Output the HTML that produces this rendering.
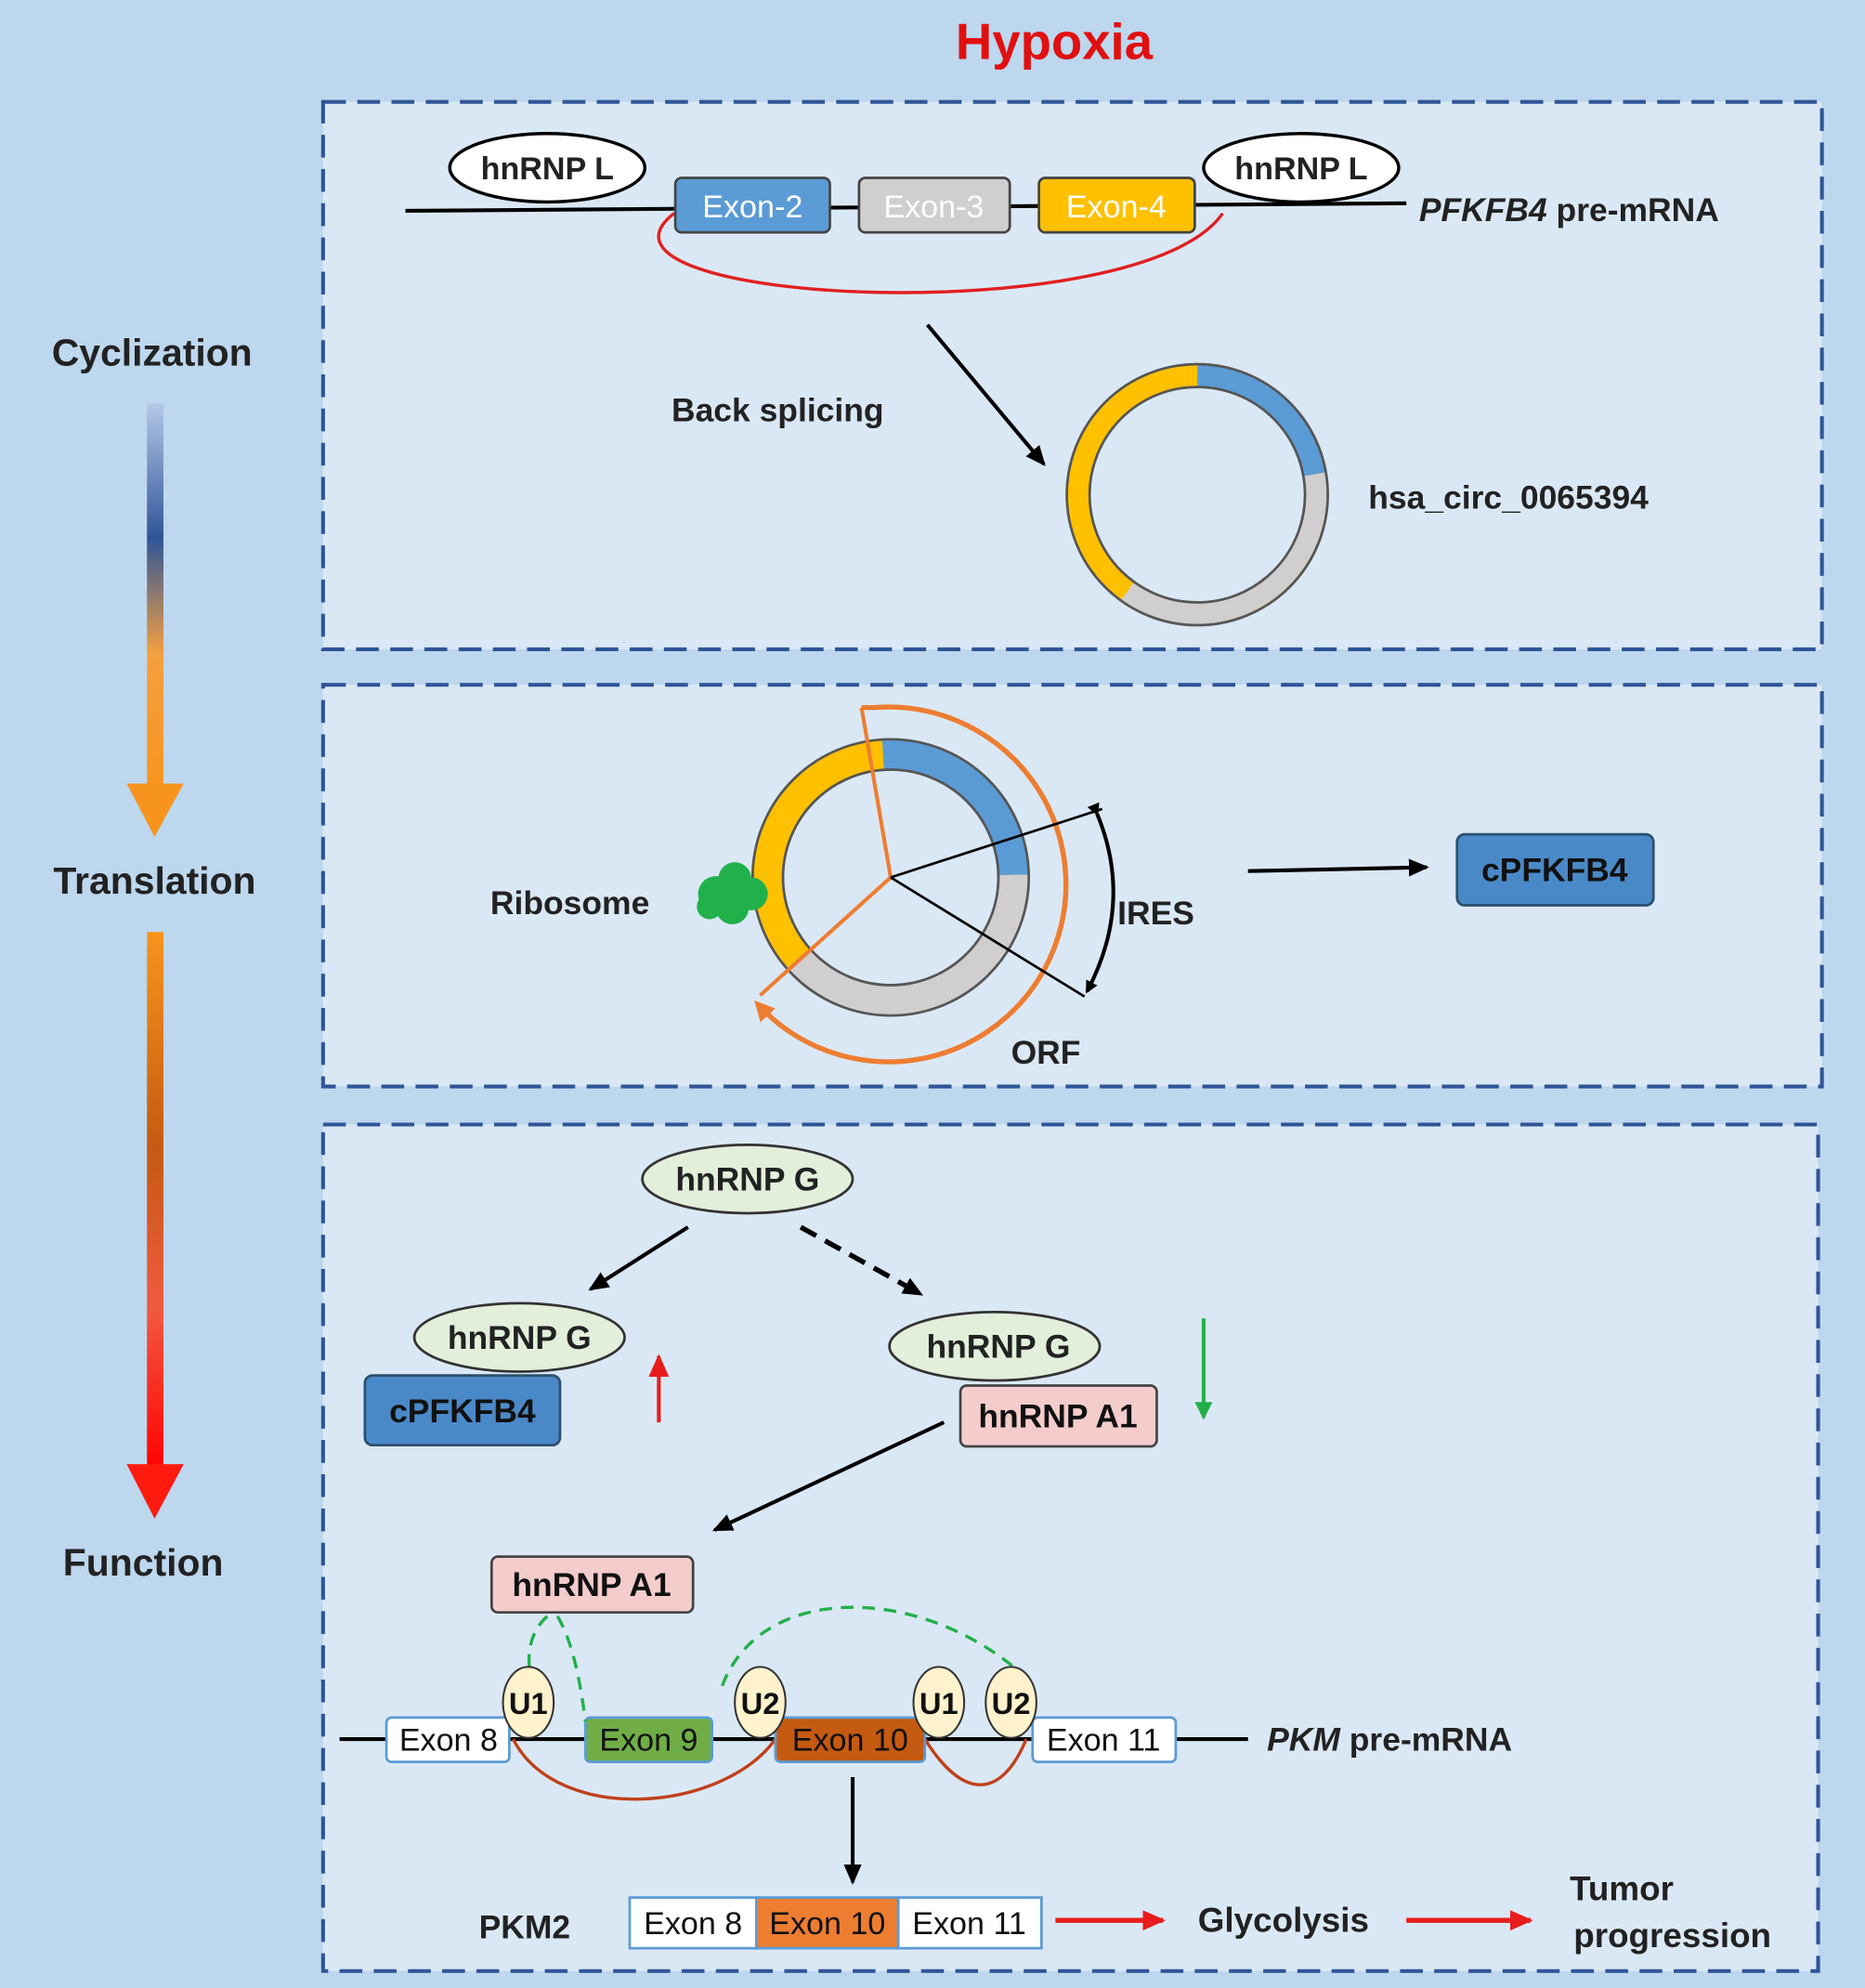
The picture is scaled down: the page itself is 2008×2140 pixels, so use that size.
<!DOCTYPE html>
<html><head><meta charset="utf-8"><style>
html,body{margin:0;padding:0;background:#bdd7ee;}
svg{display:block;}
text{font-family:"Liberation Sans",Arial,sans-serif;}
</style></head><body>
<svg width="2008" height="2140" viewBox="0 0 1472 1568" xmlns="http://www.w3.org/2000/svg">
<defs>
<linearGradient id="g1" x1="0" y1="0" x2="0" y2="1">
<stop offset="0" stop-color="#b4c7e7"/><stop offset="0.35" stop-color="#2f5597"/><stop offset="0.65" stop-color="#f4a040"/><stop offset="1" stop-color="#f7941d"/></linearGradient>
<linearGradient id="g2" x1="0" y1="0" x2="0" y2="1">
<stop offset="0" stop-color="#f7941d"/><stop offset="0.4" stop-color="#c55a11"/><stop offset="0.7" stop-color="#f05a40"/><stop offset="1" stop-color="#ff0000"/></linearGradient>
<marker id="ab" markerWidth="10" markerHeight="10" refX="8" refY="5" orient="auto" markerUnits="userSpaceOnUse"><path d="M0,0 L10,5 L0,10 z" fill="#000"/></marker>
<marker id="abig" markerWidth="16" markerHeight="14" refX="14" refY="7" orient="auto" markerUnits="userSpaceOnUse"><path d="M0,0 L16,7 L0,14 z" fill="#000"/></marker>
<marker id="ar" markerWidth="18" markerHeight="16" refX="16" refY="8" orient="auto" markerUnits="userSpaceOnUse"><path d="M0,0 L18,8 L0,16 z" fill="#e81c1c"/></marker>
<marker id="ag" markerWidth="14" markerHeight="14" refX="12" refY="7" orient="auto" markerUnits="userSpaceOnUse"><path d="M0,0 L14,7 L0,14 z" fill="#22b04b"/></marker>
<marker id="ao" markerWidth="16" markerHeight="16" refX="12" refY="8" orient="auto" markerUnits="userSpaceOnUse"><path d="M0,0 L16,8 L0,16 z" fill="#ed7d31"/></marker>
</defs>
<rect width="1472" height="1568" fill="#bdd7ee"/>
<text x="832" y="46" font-size="40" font-weight="bold" fill="#e01010" text-anchor="middle">Hypoxia</text>

<!-- panels -->
<g fill="#dae8f5" stroke="#2f5597" stroke-width="3" stroke-dasharray="18,9">
<rect x="255" y="80" width="1183" height="432"/>
<rect x="255" y="540" width="1183" height="317"/>
<rect x="255" y="887" width="1180" height="668"/>
</g>

<!-- left -->
<g font-size="30" font-weight="bold" fill="#222" text-anchor="middle">
<text x="120" y="288">Cyclization</text>
<text x="122" y="705">Translation</text>
<text x="113" y="1243">Function</text>
</g>
<rect x="116" y="318" width="13" height="305" fill="url(#g1)"/>
<path d="M100,618 L145,618 L122,660 z" fill="#f7941d"/>
<rect x="116" y="735" width="13" height="425" fill="url(#g2)"/>
<path d="M100,1155 L145,1155 L122,1198 z" fill="#ff1a10"/>

<!-- panel 1 -->
<line x1="320" y1="166" x2="1110" y2="160" stroke="#000" stroke-width="3"/>
<path d="M532,168 C440,240 900,262 965,168" fill="none" stroke="#e02020" stroke-width="2.5"/>
<g stroke="#444" stroke-width="2">
<rect x="533" y="140" width="122" height="43" rx="5" fill="#5b9bd5"/>
<rect x="678" y="140" width="119" height="43" rx="5" fill="#d0cece"/>
<rect x="820" y="140" width="123" height="43" rx="5" fill="#ffc000"/>
</g>
<g font-size="25" fill="#fff" text-anchor="middle">
<text x="594" y="171">Exon-2</text><text x="737" y="171">Exon-3</text><text x="881" y="171">Exon-4</text>
</g>
<ellipse cx="432" cy="132" rx="77" ry="27" fill="#fff" stroke="#000" stroke-width="2.5"/>
<ellipse cx="1027" cy="132" rx="77" ry="27" fill="#fff" stroke="#000" stroke-width="2.5"/>
<g font-size="25" font-weight="bold" fill="#222" text-anchor="middle">
<text x="432" y="141">hnRNP L</text><text x="1027" y="141">hnRNP L</text>
</g>
<text x="1120" y="174" font-size="26" font-weight="bold" fill="#222"><tspan font-style="italic">PFKFB4</tspan> pre-mRNA</text>
<line x1="732" y1="256" x2="824" y2="366" stroke="#000" stroke-width="3" marker-end="url(#abig)"/>
<text x="530" y="332" font-size="26" font-weight="bold" fill="#222">Back splicing</text>
<g fill="none" stroke-width="18">
<circle cx="945" cy="390" r="94" stroke="#ffc000"/>
<path d="M945,296 A94,94 0 0 1 1037,374" stroke="#5b9bd5"/>
<path d="M1037,374 A94,94 0 0 1 890,466" stroke="#d0cece"/>
</g>
<circle cx="945" cy="390" r="103" fill="none" stroke="#555" stroke-width="2"/>
<circle cx="945" cy="390" r="85" fill="none" stroke="#555" stroke-width="2"/>
<text x="1080" y="401" font-size="26" font-weight="bold" fill="#222">hsa_circ_0065394</text>

<!-- panel 2 -->
<g fill="none" stroke-width="24">
<circle cx="703" cy="692" r="97" stroke="#ffc000"/>
<path d="M697,595 A97,97 0 0 1 800,690" stroke="#5b9bd5"/>
<path d="M800,690 A97,97 0 0 1 630,756" stroke="#d0cece"/>
</g>
<circle cx="703" cy="692" r="109" fill="none" stroke="#555" stroke-width="2"/>
<circle cx="703" cy="692" r="85" fill="none" stroke="#555" stroke-width="2"/>
<g stroke="#ed7d31" stroke-width="3" fill="none">
<line x1="703" y1="692" x2="680" y2="558"/>
<line x1="703" y1="692" x2="600" y2="785"/>
<path d="M680,558 L690,558 A140,140 0 1 1 598,792" stroke-width="4" marker-end="url(#ao)"/>
</g>
<g stroke="#000" stroke-width="2" fill="none">
<line x1="703" y1="692" x2="870" y2="638"/>
<line x1="703" y1="692" x2="856" y2="786"/>
<path d="M866,642 Q895,712 858,782" stroke-width="3" marker-start="url(#ab)" marker-end="url(#ab)"/>
</g>
<g fill="#22b04b"><circle cx="565" cy="705" r="14"/><circle cx="580" cy="693" r="13"/><circle cx="593" cy="705" r="13"/><circle cx="578" cy="716" r="13"/><circle cx="560" cy="715" r="10"/></g>
<g font-size="26" font-weight="bold" fill="#222">
<text x="387" y="721">Ribosome</text><text x="882" y="729">IRES</text><text x="798" y="839">ORF</text>
</g>
<line x1="985" y1="687" x2="1126" y2="684" stroke="#000" stroke-width="3" marker-end="url(#abig)"/>
<rect x="1150" y="658" width="155" height="56" rx="6" fill="#4a89c8" stroke="#2d4f6e" stroke-width="2"/>
<text x="1227" y="695" font-size="26" font-weight="bold" fill="#111" text-anchor="middle">cPFKFB4</text>

<!-- panel 3 -->
<g stroke="#333" stroke-width="2" fill="#e2efda">
<ellipse cx="590" cy="930" rx="83" ry="27"/>
<ellipse cx="410" cy="1055" rx="83" ry="27"/>
<ellipse cx="785" cy="1062" rx="83" ry="27"/>
</g>
<g font-size="26" font-weight="bold" fill="#222" text-anchor="middle">
<text x="590" y="939">hnRNP G</text><text x="410" y="1064">hnRNP G</text><text x="788" y="1071">hnRNP G</text>
</g>
<line x1="543" y1="968" x2="466" y2="1017" stroke="#000" stroke-width="3" marker-end="url(#abig)"/>
<line x1="632" y1="968" x2="727" y2="1021" stroke="#000" stroke-width="4" stroke-dasharray="14,8" marker-end="url(#abig)"/>
<rect x="288" y="1085" width="154" height="55" rx="6" fill="#4a89c8" stroke="#2d4f6e" stroke-width="2"/>
<text x="365" y="1122" font-size="26" font-weight="bold" fill="#111" text-anchor="middle">cPFKFB4</text>
<line x1="520" y1="1122" x2="520" y2="1070" stroke="#e81c1c" stroke-width="3" marker-end="url(#ar)"/>
<rect x="758" y="1093" width="155" height="48" rx="5" fill="#f4cccc" stroke="#444" stroke-width="2"/>
<text x="835" y="1126" font-size="26" font-weight="bold" fill="#111" text-anchor="middle">hnRNP A1</text>
<line x1="950" y1="1040" x2="950" y2="1118" stroke="#22b04b" stroke-width="3" marker-end="url(#ag)"/>
<line x1="745" y1="1122" x2="564" y2="1207" stroke="#000" stroke-width="3" marker-end="url(#abig)"/>
<rect x="388" y="1228" width="159" height="44" rx="5" fill="#f4cccc" stroke="#444" stroke-width="2"/>
<text x="467" y="1259" font-size="26" font-weight="bold" fill="#111" text-anchor="middle">hnRNP A1</text>

<line x1="268" y1="1372" x2="985" y2="1372" stroke="#000" stroke-width="3"/>
<g fill="none" stroke="#c0401a" stroke-width="2.5">
<path d="M405,1372 C440,1440 570,1430 612,1372"/>
<path d="M730,1372 C760,1420 790,1420 810,1372"/>
</g>
<g stroke="#5b9bd5" stroke-width="2">
<rect x="305" y="1355" width="97" height="35" rx="4" fill="#fff"/>
<rect x="462" y="1355" width="100" height="35" rx="4" fill="#70ad47"/>
<rect x="612" y="1355" width="118" height="35" rx="4" fill="#c55a11"/>
<rect x="815" y="1355" width="113" height="35" rx="4" fill="#fff"/>
</g>
<g font-size="25" fill="#111" text-anchor="middle">
<text x="354" y="1381">Exon 8</text><text x="512" y="1381">Exon 9</text><text x="671" y="1381">Exon 10</text><text x="871" y="1381">Exon 11</text>
</g>
<g fill="none" stroke="#22b04b" stroke-width="2.5" stroke-dasharray="10,7">
<path d="M432,1275 Q415,1290 418,1318"/>
<path d="M440,1275 Q455,1300 462,1358"/>
<path d="M570,1330 C600,1250 720,1250 800,1315"/>
</g>
<g stroke="#333" stroke-width="1.5" fill="#fff2cc">
<ellipse cx="417" cy="1343" rx="20" ry="28"/><ellipse cx="600" cy="1343" rx="20" ry="28"/>
<ellipse cx="741" cy="1343" rx="20" ry="28"/><ellipse cx="798" cy="1343" rx="20" ry="28"/>
</g>
<g font-size="24" font-weight="bold" fill="#111" text-anchor="middle">
<text x="417" y="1352">U1</text><text x="600" y="1352">U2</text><text x="741" y="1352">U1</text><text x="798" y="1352">U2</text>
</g>
<text x="1000" y="1381" font-size="26" font-weight="bold" fill="#222"><tspan font-style="italic">PKM</tspan> pre-mRNA</text>
<line x1="673" y1="1402" x2="673" y2="1485" stroke="#000" stroke-width="3" marker-end="url(#abig)"/>
<text x="378" y="1529" font-size="26" font-weight="bold" fill="#222">PKM2</text>
<g stroke="#5b9bd5" stroke-width="2">
<rect x="497" y="1497" width="100" height="40" fill="#fff"/>
<rect x="597" y="1497" width="112" height="40" fill="#ed7d31"/>
<rect x="709" y="1497" width="113" height="40" fill="#fff"/>
</g>
<g font-size="25" fill="#111" text-anchor="middle">
<text x="547" y="1526">Exon 8</text><text x="653" y="1526">Exon 10</text><text x="765" y="1526">Exon 11</text>
</g>
<line x1="833" y1="1515" x2="918" y2="1515" stroke="#e81c1c" stroke-width="4" marker-end="url(#ar)"/>
<line x1="1110" y1="1515" x2="1208" y2="1515" stroke="#e81c1c" stroke-width="4" marker-end="url(#ar)"/>
<g font-size="27" font-weight="bold" fill="#222" text-anchor="middle">
<text x="1013" y="1524">Glycolysis</text>
<text x="1280" y="1499">Tumor</text><text x="1320" y="1536">progression</text>
</g>
</svg>
</body></html>
